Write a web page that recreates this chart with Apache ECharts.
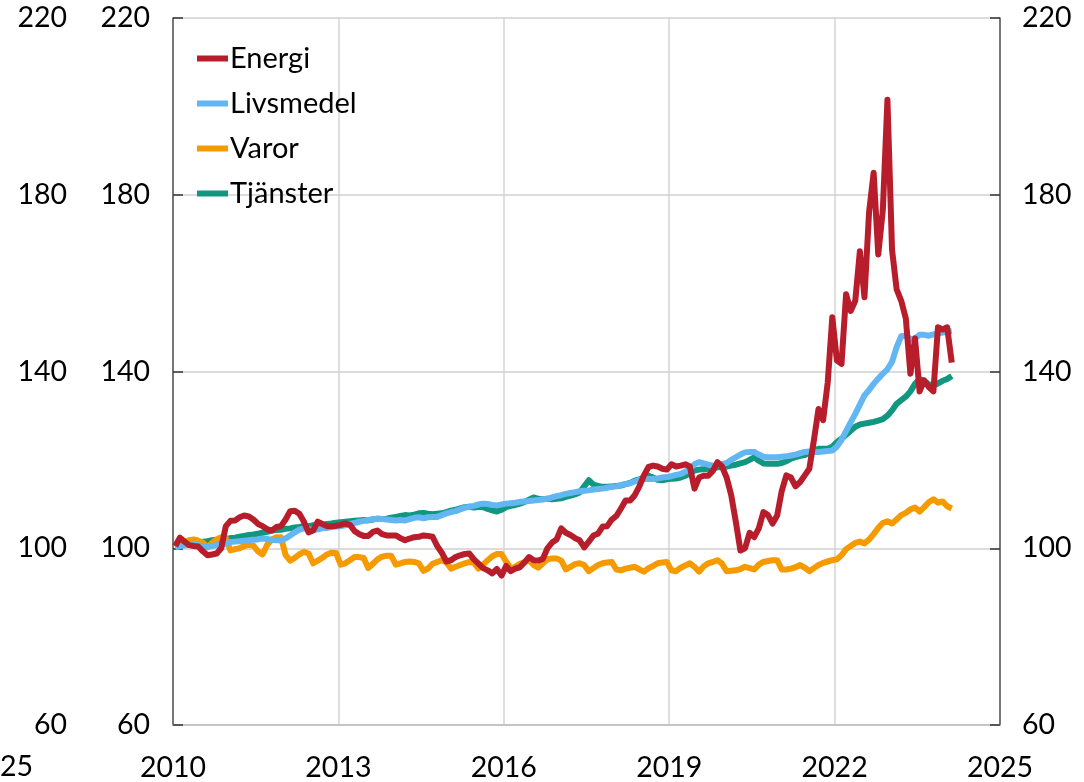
<!DOCTYPE html>
<html>
<head>
<meta charset="utf-8">
<script src="https://cdn.jsdelivr.net/npm/echarts@6/dist/echarts.min.js"></script>
<style>
  html, body { margin: 0; padding: 0; background: #fff; }
  #main { width: 1084px; height: 782px; }
</style>
</head>
<body>
<div id="main"></div>
<script>
// monthly index, Jan 2010 .. Feb 2024 (2010=100)
var firstYear = 2010;
var seriesNames = ['Energi', 'Livsmedel', 'Varor', 'Tjänster'];
var yTicks = [60, 100, 140, 180, 220];
var xTicks = [2010, 2013, 2016, 2019, 2022, 2025];

var energi = [
	100.5, 102.4, 101.5, 100.7, 100.5, 100.4, 99.3, 98.4, 98.6, 98.8, 100, 105,
	106.2, 106.3, 107, 107.4, 107.2, 106.5, 105.5, 105, 104.3, 104, 104.8, 105,
	106.5, 108.4, 108.5, 107.8, 106, 103.6, 104, 106, 105.5, 105, 105, 105.1,
	105.3, 105.6, 105.3, 103.9, 103.2, 102.8, 102.8, 103.7, 104, 103.2, 102.9, 102.9,
	102.9, 102.3, 101.8, 102.2, 102.5, 102.6, 102.9, 102.8, 102.6, 100.5, 99, 97,
	97.3, 98, 98.4, 98.7, 98.8, 97.5, 96.5, 95.5, 95, 94.3, 95.3, 93.8,
	96, 94.8, 95.4, 95.7, 96.8, 98, 97.3, 97.2, 97.6, 100, 101.3, 102,
	104.5, 103.5, 103, 102.3, 101.8, 100.2, 101.5, 102.9, 103.3, 104.9, 105, 106.5,
	107.3, 109, 110.8, 110.8, 112, 114, 116.5, 118.4, 118.7, 118.5, 118, 117.8,
	119, 118.5, 118.7, 119, 118.5, 113.5, 116, 116.4, 116.4, 117.5, 119.5, 118.5,
	116, 112, 106, 99.5, 100, 103.5, 102.5, 104.5, 108.2, 107.5, 105.6, 107.4,
	113, 116.5, 116, 114, 115, 116.5, 118, 124.5, 131.5, 129, 137.5, 152.3,
	142.5, 141.7, 157.5, 153.7, 156, 167.2, 156.8, 176, 185, 166.5, 176.6, 201.5,
	167.6, 158.6, 156, 152, 139.5, 147.5, 135.5, 138, 136.5, 135.5, 150, 149.5,
	150, 142
];
var livsmedel = [
	100.2, 100.5, 100.6, 100.9, 101, 100.7, 100.4, 100.3, 100.5, 100.7, 100.8, 101,
	101.4, 101.5, 101.6, 101.7, 101.8, 101.9, 102, 102.2, 102.1, 101.9, 101.8, 101.8,
	102.2, 102.9, 103.6, 104.2, 104.5, 104.3, 104.1, 104.3, 104.5, 104.6, 104.8, 104.9,
	105, 105.2, 105.5, 105.7, 106, 106.2, 106.4, 106.6, 106.7, 106.6, 106.5, 106.4,
	106.3, 106.4, 106.3, 106.6, 106.9, 107, 106.8, 107, 107.1, 107.1, 107.5, 107.9,
	108.2, 108.4, 108.8, 109.2, 109.4, 109.6, 109.9, 110.1, 110, 109.8, 109.7, 109.9,
	110.1, 110.2, 110.3, 110.5, 110.6, 110.7, 110.8, 110.9, 111.1, 111.2, 111.5, 111.8,
	112, 112.3, 112.5, 112.7, 112.9, 113, 113.1, 113.3, 113.4, 113.5, 113.7, 113.9,
	114, 114.3, 114.5, 114.7, 115.1, 115.5, 115.7, 115.7, 115.7, 115.8, 116, 116.1,
	116.3, 116.6, 116.8, 117.3, 118, 119, 119.5, 119.2, 118.9, 118.7, 118.8, 119,
	119.3, 120, 120.6, 121.2, 121.7, 121.8, 121.8, 121.2, 120.7, 120.6, 120.6, 120.6,
	120.7, 120.8, 121, 121.2, 121.5, 121.8, 121.9, 121.8, 121.8, 121.9, 122, 122.1,
	123, 124.5, 126.5, 128.5, 130.4, 132.5, 134.6, 135.8, 137.2, 138.4, 139.5, 140.5,
	142.2, 145.5, 148, 148.1, 147.3, 147.5, 148.3, 148.3, 148.1, 148.4, 148.6, 148.8,
	149, 149.2
];
var varor = [
	100.2, 100.8, 101.3, 101.8, 102, 101.7, 101.3, 100.2, 101.2, 102, 102.5, 102.3,
	99.5, 99.8, 100, 100.5, 100.8, 100.6, 99.3, 98.6, 100.8, 102, 102.5, 102.5,
	98.5, 97.2, 97.8, 98.6, 99.2, 98.8, 96.6, 97.2, 97.8, 98.6, 99, 98.9,
	96.3, 96.6, 97.3, 98, 98, 97.8, 95.5, 96.5, 97.5, 98.1, 98.3, 98.3,
	96.3, 96.6, 96.9, 97, 96.9, 96.6, 94.9, 95.4, 96.5, 96.9, 97.3, 96.8,
	95.4, 95.8, 96.2, 96.6, 96.9, 96.7, 95.4, 96.3, 97.3, 98.2, 98.7, 98.7,
	97, 95.5, 95.8, 96.5, 96.9, 97.3, 96.2, 95.6, 96.6, 97.5, 97.7, 97.7,
	97.2, 95.2, 95.8, 96.4, 96.6, 96.2, 94.8, 95.5, 96.2, 96.6, 96.8, 96.9,
	95.2, 95, 95.4, 95.6, 95.8, 95.2, 94.7, 95.5, 96, 96.6, 96.8, 96.9,
	95, 94.8, 95.6, 96.1, 96.6, 95.8, 94.7, 95.9, 96.6, 96.9, 97.3, 96.5,
	94.8, 94.9, 95, 95.3, 95.8, 95.5, 95.2, 96.3, 96.9, 97.1, 97.3, 97.3,
	95.2, 95.2, 95.4, 95.7, 96.2, 95.6, 94.8, 95.5, 96.2, 96.7, 97, 97.3,
	97.5, 98.4, 99.8, 100.5, 101.2, 101.5, 101.1, 102, 103.2, 104.6, 105.7, 106.1,
	105.6, 106.5, 107.5, 108, 108.8, 109.2, 108.3, 109.3, 110.4, 111.1, 110.3, 110.6,
	109.5, 109
];
var tjanster = [
	100.3, 100.6, 100.9, 101, 101.2, 101.3, 101.5, 101.6, 101.8, 101.9, 102, 102.1,
	102.3, 102.4, 102.6, 102.8, 103, 103.1, 103.3, 103.5, 103.7, 104, 104.1, 104.2,
	104.4, 104.5, 104.7, 104.8, 105, 105, 105.2, 105.3, 105.3, 105.5, 105.6, 105.8,
	105.9, 106, 106.1, 106.2, 106.3, 106.4, 106.3, 106.5, 106.7, 106.6, 106.7, 106.9,
	107.1, 107.3, 107.5, 107.4, 107.6, 107.9, 108, 107.8, 107.7, 107.8, 107.9, 108.2,
	108.5, 108.7, 109, 109.3, 109.4, 109.2, 109.4, 109.3, 108.9, 108.6, 108.3, 108.7,
	109.3, 109.6, 109.8, 110.1, 110.5, 111, 111.5, 111.2, 111.1, 111.2, 111.1, 111.2,
	111.3, 111.6, 111.9, 112.2, 112.6, 114, 115.4, 114.4, 114.1, 113.9, 113.9, 114,
	114.1, 114.2, 114.5, 114.8, 115.3, 115.6, 116, 116.4, 116, 115.5, 115.4, 115.6,
	115.7, 115.8, 116, 116.4, 117, 117.6, 117.8, 117.9, 118, 118.1, 118.3, 118.4,
	118.5, 118.7, 118.9, 119.2, 119.5, 120, 120.6, 119.8, 119.2, 119.1, 119.1, 119.1,
	119.3, 119.7, 120.3, 120.6, 120.9, 121.1, 121.6, 122.2, 122.5, 122.5, 122.5, 123,
	124, 124.8, 125.7, 126.6, 127.5, 128, 128.2, 128.4, 128.6, 128.9, 129.2, 130,
	131.2, 132.7, 133.5, 134.3, 135.5, 137.2, 138.3, 137.9, 137.1, 136.8, 137.3, 137.9,
	138.3, 139
];

var colors = ['#B81D2C', '#62B6F2', '#F59B00', '#119680'];
var font = 'Lato';

// point i sits mid-month
function pairs(arr){
	var out = [];
	for(var i=0;i<arr.length;i++){
		out.push([firstYear + (i + 0.5) / 12, arr[i]]);
	}
	return out;
}

var chart = echarts.init(document.getElementById('main'), null, {renderer: 'canvas'});

var axisLab = {color: '#000', fontSize: 28.5, fontFamily: font};
var yBase = {
	type: 'value', min: yTicks[0], max: yTicks[yTicks.length-1], interval: 40
};

var allData = [energi, livsmedel, varor, tjanster];
var zs = [5, 4, 3, 2];
var series = [];
for(var s=0;s<seriesNames.length;s++){
	series.push({
		name: seriesNames[s],
		type: 'line',
		data: pairs(allData[s]),
		showSymbol: false,
		symbol: 'none',
		z: zs[s],
		lineStyle: {color: colors[s], width: 6, join: 'round'},
		itemStyle: {color: colors[s]}
	});
}

var option = {
	animation: false,
	backgroundColor: '#fff',
	color: colors,
	grid: {left: 173, right: 84, top: 18, bottom: 55, containLabel: false},
	legend: {
		data: seriesNames,
		orient: 'vertical',
		left: 192,
		top: 38,
		itemWidth: 31,
		itemHeight: 6,
		itemGap: 14,
		icon: 'rect',
		textStyle: {color: '#000', fontSize: 29, fontFamily: font, lineHeight: 31, padding: [0, 0, 0, -3]}
	},
	xAxis: {
		type: 'value',
		min: xTicks[0],
		max: xTicks[xTicks.length-1],
		interval: 3,
		axisLine: {show: true, lineStyle: {color: '#bdbdbd', width: 1.5}},
		axisTick: {show: false},
		splitLine: {show: true, lineStyle: {color: '#d4d4d4', width: 1.5}},
		axisLabel: Object.assign({margin: 28, formatter: function(v){ return String(v); }}, axisLab)
	},
	yAxis: [
		Object.assign({}, yBase, {
			position: 'left',
			axisLine: {show: true, lineStyle: {color: '#555', width: 1.5}},
			axisTick: {show: true, inside: true, length: 10, lineStyle: {color: '#333', width: 1.5}},
			splitLine: {show: true, lineStyle: {color: '#d0d0d0', width: 1.5}},
			axisLabel: Object.assign({margin: 23}, axisLab)
		}),
		Object.assign({}, yBase, {
			position: 'left',
			offset: 83,
			axisLine: {show: false},
			axisTick: {show: false},
			splitLine: {show: false},
			axisLabel: Object.assign({margin: 23}, axisLab)
		}),
		Object.assign({}, yBase, {
			position: 'right',
			axisLine: {show: true, lineStyle: {color: '#555', width: 1.5}},
			axisTick: {show: true, inside: true, length: 10, lineStyle: {color: '#333', width: 1.5}},
			splitLine: {show: false},
			axisLabel: Object.assign({margin: 22}, axisLab)
		})
	],
	graphic: [
		{
			type: 'text',
			left: 0,
			top: 752,
			style: {text: '25', fill: '#000', fontSize: 28.5, fontFamily: font}
		}
	],
	series: series
};
chart.setOption(option);
</script>
</body>
</html>
